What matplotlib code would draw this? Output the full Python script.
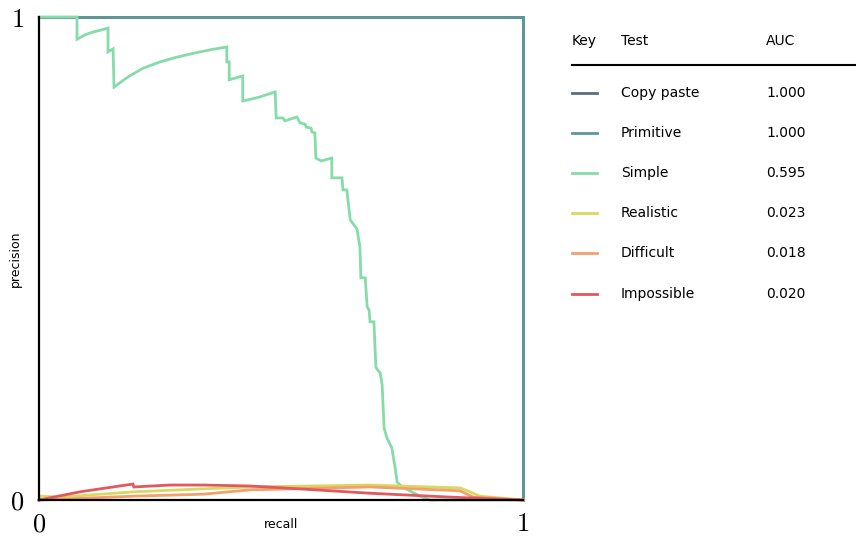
import matplotlib
matplotlib.use("Agg")
import matplotlib.pyplot as plt
from matplotlib.lines import Line2D

# ---- data ----
tests = ["Copy paste", "Primitive", "Simple", "Realistic", "Difficult", "Impossible"]
auc = [1.000, 1.000, 0.595, 0.023, 0.018, 0.020]
colors = ["#5c6e7e", "#5e9797", "#86dca8", "#d8d862", "#f3a06c", "#e2585f"]

copy_recall = [0.0, 1.0, 1.0]
copy_prec = [1.0, 1.0, 0.0]

prim_recall = [0.0, 1.0, 1.0]
prim_prec = [1.0, 1.0, 0.0]

simple_recall = [0.0, 0.0785, 0.0785, 0.095, 0.1116, 0.128, 0.1426, 0.1426, 0.153, 0.155,
                 0.184, 0.215, 0.25, 0.285, 0.320, 0.353, 0.388, 0.388, 0.393, 0.393,
                 0.421, 0.421, 0.455, 0.488, 0.490, 0.504, 0.508, 0.533, 0.539, 0.550,
                 0.552, 0.562, 0.564, 0.570, 0.572, 0.583, 0.605, 0.605, 0.626, 0.628,
                 0.636, 0.643, 0.657, 0.663, 0.665, 0.674, 0.678, 0.682, 0.684, 0.692,
                 0.696, 0.700, 0.705, 0.709, 0.713, 0.719, 0.729, 0.733, 0.735, 0.740,
                 0.746, 0.762, 0.787, 0.808, 1.0]
simple_prec = [1.0, 1.0, 0.954, 0.963, 0.969, 0.973, 0.977, 0.928, 0.934, 0.855,
               0.876, 0.894, 0.907, 0.917, 0.925, 0.932, 0.938, 0.907, 0.907, 0.870,
               0.878, 0.826, 0.834, 0.845, 0.791, 0.791, 0.785, 0.793, 0.781, 0.778,
               0.772, 0.770, 0.762, 0.760, 0.708, 0.702, 0.708, 0.667, 0.667, 0.642,
               0.642, 0.580, 0.561, 0.524, 0.460, 0.460, 0.400, 0.393, 0.369, 0.369,
               0.275, 0.269, 0.263, 0.238, 0.149, 0.128, 0.108, 0.083, 0.072, 0.037,
               0.031, 0.021, 0.008, 0.0, 0.0]

real_recall = [0.0, 0.004, 0.043, 0.198, 0.339, 0.436, 0.684, 0.870, 0.890, 0.911, 1.0]
real_prec = [0.0, 0.008, 0.006, 0.017, 0.023, 0.027, 0.031, 0.025, 0.017, 0.008, 0.0]

diff_recall = [0.0, 0.198, 0.339, 0.436, 0.684, 0.870, 0.897, 1.0]
diff_prec = [0.0, 0.008, 0.012, 0.021, 0.027, 0.019, 0.006, 0.0]

imp_recall = [0.0, 0.085, 0.194, 0.196, 0.271, 0.339, 0.436, 0.539, 0.684, 0.849, 1.0]
imp_prec = [0.0, 0.017, 0.033, 0.027, 0.031, 0.031, 0.029, 0.023, 0.014, 0.006, 0.0]

curves = [(copy_recall, copy_prec), (prim_recall, prim_prec), (simple_recall, simple_prec),
          (real_recall, real_prec), (diff_recall, diff_prec), (imp_recall, imp_prec)]

# ---- figure ----
W, H = 856, 539
fig = plt.figure(figsize=(W / 100, H / 100), dpi=100)
plt.rcParams["mathtext.fontset"] = "cm"

ax = fig.add_axes([39 / W, 1 - 500 / H, 484 / W, 483 / H])
for (r, p), c in zip(curves, colors):
    ax.plot(r, p, color=c, lw=2, clip_on=False, solid_joinstyle="miter")

ax.set_xlim(0, 1)
ax.set_ylim(0, 1)
for s in ["top", "right"]:
    ax.spines[s].set_visible(False)
for s in ["left", "bottom"]:
    ax.spines[s].set_linewidth(1.6)
    ax.spines[s].set_color("black")
ax.set_xticks([0, 1])
ax.set_yticks([0, 1])
ax.set_xticklabels(["$0$", "$1$"], fontsize=19)
ax.set_yticklabels(["$0$", "$1$"], fontsize=19)
ax.tick_params(axis="x", length=0, pad=8)
ax.tick_params(axis="y", length=0, pad=11)
ax.set_xlabel("recall", fontsize=9)
ax.set_ylabel("precision", fontsize=9)
ax.xaxis.set_label_coords(0.5, -0.037)
ax.yaxis.set_label_coords(-0.036, 0.5)

# ---- table style legend ----
def fy(py):
    return 1 - py / H

hdr_y = fy(41)
fig.text(572 / W, hdr_y, "Key", fontsize=10, va="center")
fig.text(621 / W, hdr_y, "Test", fontsize=10, va="center")
fig.text(766 / W, hdr_y, "AUC", fontsize=10, va="center")
fig.add_artist(Line2D([572 / W, 1.0], [fy(65), fy(65)], color="black", lw=1.5,
                      transform=fig.transFigure))

row_y = [93, 133, 173, 213, 253, 294]
for name, a, c, py in zip(tests, auc, colors, row_y):
    y = fy(py)
    fig.add_artist(Line2D([572 / W, 597 / W], [y, y], color=c, lw=2,
                          transform=fig.transFigure))
    fig.text(621 / W, y, name, fontsize=10, va="center")
    fig.text(766 / W, y, f"{a:.3f}", fontsize=10, va="center")

fig.savefig("out.png", dpi=100)
